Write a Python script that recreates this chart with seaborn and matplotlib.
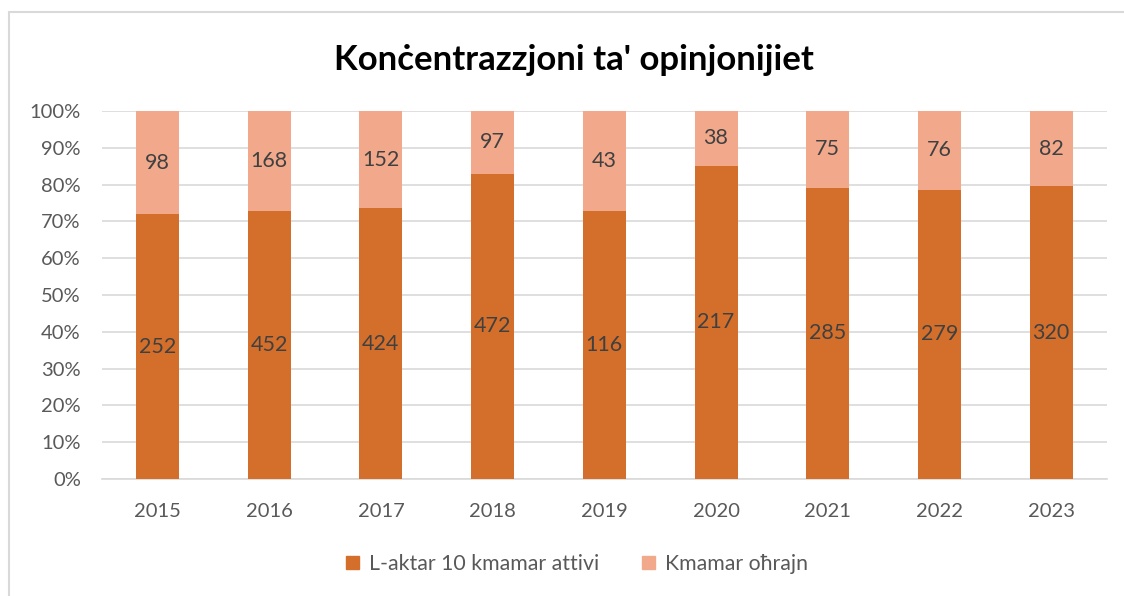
import matplotlib
matplotlib.use('Agg')
import matplotlib.pyplot as plt
from matplotlib.lines import Line2D
from matplotlib.patches import Patch
import pandas as pd
import seaborn as sns

years = ['2015', '2016', '2017', '2018', '2019', '2020', '2021', '2022', '2023']
top10 = [252, 452, 424, 472, 116, 217, 285, 279, 320]
others = [98, 168, 152, 97, 43, 38, 75, 76, 82]
title = "Konċentrazzjoni ta' opinjonijiet"
labels = ['L-aktar 10 kmamar attivi', 'Kmamar oħrajn']

dark = '#D46F2B'
light = '#F2A98B'

sns.set_theme(style='white')
plt.rcParams['font.family'] = ['Lato', 'DejaVu Sans']

df = pd.DataFrame({'year': years, 'top10': top10, 'others': others})
df['total'] = df['top10'] + df['others']
df['share_top'] = df['top10'] / df['total']
df['full'] = 1.0

fig = plt.figure(figsize=(11.24, 5.96), dpi=100)
ax = fig.add_axes([101.6 / 1124, 1 - 479 / 596, (1107 - 101.6) / 1124, (479 - 111) / 596])

sns.barplot(data=df, x='year', y='full', color=light, width=0.385,
            saturation=1, linewidth=0, ax=ax, zorder=2)
sns.barplot(data=df, x='year', y='share_top', color=dark, width=0.385,
            saturation=1, linewidth=0, ax=ax, zorder=3)

for i, row in df.iterrows():
    ax.text(i, row['share_top'] / 2, str(row['top10']), ha='center', va='center',
            fontsize=15.5, color='#404040', zorder=4)
    ax.text(i, (row['share_top'] + 1) / 2, str(row['others']), ha='center', va='center',
            fontsize=15.5, color='#404040', zorder=4)

ax.set_ylim(0, 1)
ax.set_xlim(-0.5, len(years) - 0.5)
ax.set_yticks([i / 10 for i in range(11)])
ax.set_yticklabels([f'{i * 10}%' for i in range(11)])
ax.yaxis.grid(True, color='#D9D9D9', linewidth=1.2, zorder=0)
ax.set_axisbelow(True)
for s in ['top', 'right', 'left']:
    ax.spines[s].set_visible(False)
ax.spines['bottom'].set_color('#D9D9D9')
ax.spines['bottom'].set_linewidth(1.2)
ax.tick_params(axis='both', length=0, labelsize=14.5, colors='#595959')
ax.tick_params(axis='x', pad=17)
ax.tick_params(axis='y', pad=15)
ax.set_xlabel('')
ax.set_ylabel('')

fig.text(574 / 1124, 1 - 60 / 596, title, ha='center', va='center',
         fontsize=25, fontweight='bold', color='black')

handles = [Patch(color=dark), Patch(color=light)]
fig.legend(handles, labels, loc='center', bbox_to_anchor=(577 / 1124, 1 - 564 / 596),
           ncol=2, frameon=False, fontsize=15.3, handlelength=0.6, handleheight=0.6,
           columnspacing=2.0, handletextpad=0.5, labelcolor='#595959')

# chart area border (top and left edges visible)
fig.add_artist(Line2D([9 / 1124, 1.0], [1 - 12 / 596] * 2, color='#D9D9D9', lw=1.5,
                      transform=fig.transFigure))
fig.add_artist(Line2D([9 / 1124] * 2, [0.0, 1 - 12 / 596], color='#D9D9D9', lw=1.5,
                      transform=fig.transFigure))

fig.savefig('out.png', dpi=100)
